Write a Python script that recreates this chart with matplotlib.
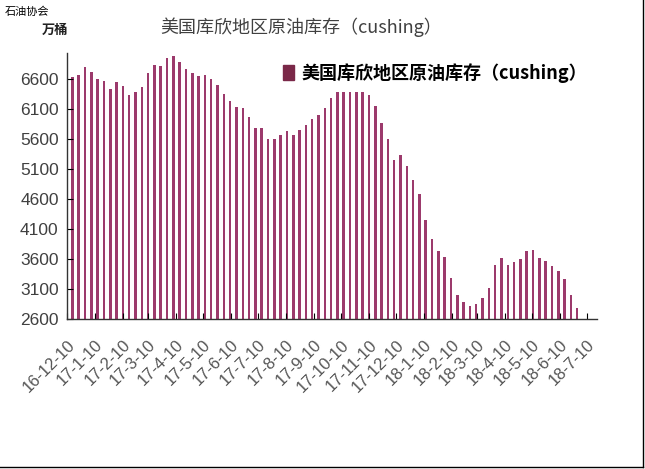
import matplotlib
matplotlib.use("Agg")
import matplotlib.pyplot as plt
import matplotlib.dates as mdates
import numpy as np
import pandas as pd

plt.rcParams['font.family'] = ['Liberation Sans', 'Noto Sans CJK SC', 'DejaVu Sans']

# weekly dates (Fridays)
dates = pd.date_range("2016-12-16", periods=81, freq="7D")
values = [6633, 6667, 6785, 6712, 6592, 6565, 6428, 6548, 6470, 6330,
          6380, 6465, 6690, 6828, 6810, 6945, 6978, 6880, 6760, 6689,
          6642, 6665, 6589, 6498, 6350, 6233, 6133, 6112, 5967, 5778,
          5778, 5595, 5595, 5653, 5720, 5667, 5745, 5823, 5923, 5995,
          6117, 6275, 6378, 6378, 6378, 6378, 6378, 6328, 6137, 5856,
          5589, 5253, 5323, 5153, 4915, 4675, 4245, 3933, 3723, 3636,
          3278, 2995, 2875, 2822, 2856, 2950, 3120, 3495, 3617, 3495,
          3550, 3592, 3723, 3740, 3620, 3573, 3478, 3400, 3262, 2995,
          2783]
tick_dates = pd.date_range("2016-12-01", "2018-07-01", freq="MS") + pd.Timedelta(days=9)
tick_labels = [f"{d.year % 100}-{d.month}-{d.day}" for d in tick_dates]
yticks = [2600, 3100, 3600, 4100, 4600, 5100, 5600, 6100, 6600]
series_name = "美国库欣地区原油库存（cushing）"
title = "美国库欣地区原油库存（cushing）"
unit = "万桶"
source = "石油协会"

bar_color = "#9c3a6c"
text_color = "#404040"

fig = plt.figure(figsize=(6.45, 4.69), dpi=100)
ax = fig.add_axes([67/645, 1-319/469, (597-67)/645, (319-52.7)/469])

x = mdates.date2num(dates)
ax.bar(x, np.array(values) - 2600, bottom=2600, width=2.8, color=bar_color,
       label=series_name)

ax.set_xlim(mdates.date2num(pd.Timestamp("2016-12-10")),
            mdates.date2num(pd.Timestamp("2016-12-10")) + 588)
ax.set_ylim(2600, 7030)
ax.set_yticks(yticks)
ax.set_yticklabels([str(v) for v in yticks], fontsize=12.5, color=text_color)
ax.set_xticks(mdates.date2num(tick_dates))
ax.set_xticklabels(tick_labels, rotation=45, ha='right', rotation_mode='anchor',
                   fontsize=12, color='#555555')
ax.tick_params(axis='x', direction='in', length=4, pad=13, color='black')
ax.tick_params(axis='y', direction='in', length=4, pad=6, color='black')
for s in ['top', 'right']:
    ax.spines[s].set_visible(False)
for s in ['left', 'bottom']:
    ax.spines[s].set_color('#333333')
    ax.spines[s].set_linewidth(1.0)

# title and labels
fig.text(301/645, 1-27/469, title, ha='center', va='center', fontsize=13,
         color=text_color, family=['Noto Sans CJK SC', 'DejaVu Sans'])
fig.text(55/645, 1-30/469, unit, ha='center', va='center', fontsize=9.5,
         color='#222222', family=['Noto Sans CJK SC', 'DejaVu Sans'], fontweight='bold')
fig.text(5/645, 1-12/469, source, ha='left', va='center', fontsize=8,
         color='black', family=['Noto Sans CJK SC', 'DejaVu Sans'])

leg = ax.legend(loc='upper left', bbox_to_anchor=((276-67)/530, 1-(56-52.7)/266.3),
                frameon=False, handlelength=0.6, handleheight=0.9, handletextpad=0.4,
                borderaxespad=0, prop={'family': ['Noto Sans CJK SC', 'DejaVu Sans'],
                                       'size': 13, 'weight': 'bold'})
for h in leg.legend_handles:
    h.set_color("#7a2848")

# figure border (right and bottom)
fig.add_artist(plt.Line2D([643/645, 643/645], [1, 2/469], color='black', lw=1,
                          transform=fig.transFigure))
fig.add_artist(plt.Line2D([0, 643/645], [2/469, 2/469], color='black', lw=1,
                          transform=fig.transFigure))

fig.savefig("out.png", dpi=100)
